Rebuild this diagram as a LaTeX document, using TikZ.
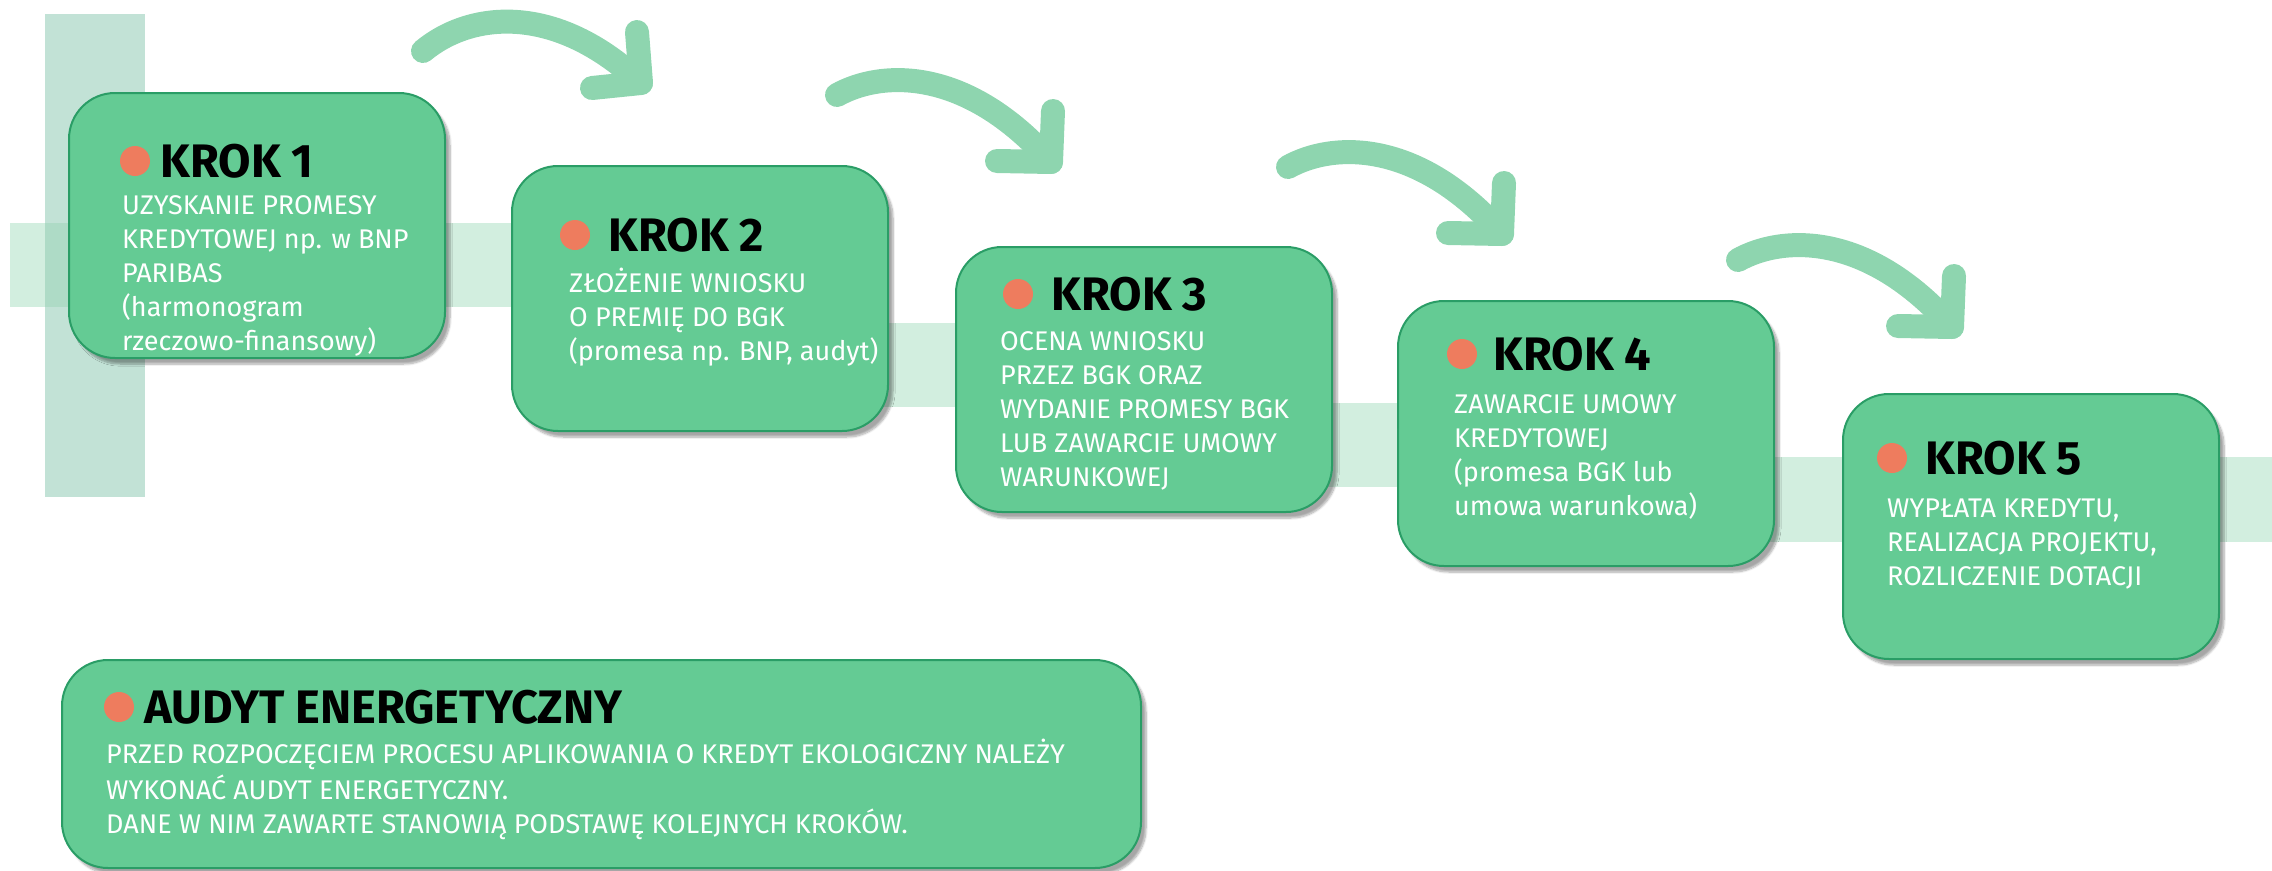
\documentclass[tikz,border=0pt]{standalone}
\usepackage{fontspec}
\setmainfont{Fira Sans}
\usetikzlibrary{positioning}
\usetikzlibrary{shadows.blur}

\definecolor{boxgreen}{HTML}{64CB94}
\definecolor{boxedge}{HTML}{2A9D66}
\definecolor{arrowgreen}{HTML}{8ED5AF}
\definecolor{barlight}{HTML}{D2EEDF}
\definecolor{barvert}{HTML}{C2E2D6}
\definecolor{barboth}{HTML}{AEDBC6}
\definecolor{dotorange}{HTML}{EE7C5E}

\begin{document}
\begin{tikzpicture}[x=1pt,y=-1pt,
    krokbox/.style={draw=boxedge, line width=2pt, fill=boxgreen, rounded corners=46pt,
        minimum width=376pt, minimum height=265pt, inner sep=0pt, anchor=north west,
        blur shadow={shadow xshift=5pt, shadow yshift=-6pt, shadow blur steps=8, shadow opacity=35}},
    krokdot/.style={circle, fill=dotorange, minimum size=30pt, inner sep=0pt},
    kroktitle/.style={font=\fontsize{47}{47}\selectfont\bfseries, text=black, inner sep=0pt},
    kroktext/.style={font=\fontsize{27}{34}\selectfont, text=white, align=left, inner sep=0pt, anchor=north west},
    strzalka/.style={draw=arrowgreen, line width=24pt, line cap=round, line join=round}]

    \useasboundingbox (0,0) rectangle (2272,870);

    % Background bars
    \fill[barvert] (45,14) rectangle (145,497);
    \fill[barlight] (10,223) rectangle (520,307);
    \fill[barboth] (45,223) rectangle (145,307);
    \fill[barlight] (870,323) rectangle (970,407);
    \fill[barlight] (1310,403) rectangle (1410,487);
    \fill[barlight] (1760,457) rectangle (2272,542);

    % Arrows between the steps
    \coordinate (a1s) at (423,51);
    \coordinate (a1c) at (641,83);
    \draw[strzalka] (a1s) .. controls (470,12) and (555,2) .. (a1c);
    \draw[strzalka] (637,32) -- (a1c) -- (592,88);

    \coordinate (a2s) at (837,95);
    \coordinate (a2c) at (1051,162);
    \draw[strzalka] (a2s) .. controls (882,70) and (967,67) .. (a2c);
    \draw[strzalka] (1053,111) -- (a2c) -- (997,161);

    \coordinate (a3s) at (1288,167);
    \coordinate (a3c) at (1502,234);
    \draw[strzalka] (a3s) .. controls (1333,142) and (1418,139) .. (a3c);
    \draw[strzalka] (1504,183) -- (a3c) -- (1448,233);

    \coordinate (a4s) at (1738,260);
    \coordinate (a4c) at (1952,327);
    \draw[strzalka] (a4s) .. controls (1783,235) and (1868,232) .. (a4c);
    \draw[strzalka] (1954,276) -- (a4c) -- (1898,326);

    % Step 1
    \node[krokbox] (krok1) at (68,92) {};
    \node[krokdot] (d1) at ([shift={(67,69)}]krok1.north west) {};
    \node[kroktitle, right=10pt of d1] (t1) {KROK 1};
    \node[kroktext] (b1) at ([shift={(54,98)}]krok1.north west)
        {\strut UZYSKANIE PROMESY\\KREDYTOWEJ np. w BNP\\PARIBAS\\(harmonogram\\rzeczowo-finansowy)};

    % Step 2
    \node[krokbox] (krok2) at (511,165) {};
    \node[krokdot] (d2) at ([shift={(64,70)}]krok2.north west) {};
    \node[kroktitle, right=18pt of d2] (t2) {KROK 2};
    \node[kroktext] (b2) at ([shift={(58,103)}]krok2.north west)
        {\strut ZŁOŻENIE WNIOSKU\\O PREMIĘ DO BGK\\(promesa np. BNP, audyt)};

    % Step 3
    \node[krokbox] (krok3) at (955,246) {};
    \node[krokdot] (d3) at ([shift={(63,48)}]krok3.north west) {};
    \node[kroktitle, right=18pt of d3] (t3) {KROK 3};
    \node[kroktext] (b3) at ([shift={(45,80)}]krok3.north west)
        {\strut OCENA WNIOSKU\\PRZEZ BGK ORAZ\\WYDANIE PROMESY BGK\\LUB ZAWARCIE UMOWY\\WARUNKOWEJ};

    % Step 4
    \node[krokbox] (krok4) at (1397,300) {};
    \node[krokdot] (d4) at ([shift={(65,54)}]krok4.north west) {};
    \node[kroktitle, right=16pt of d4] (t4) {KROK 4};
    \node[kroktext] (b4) at ([shift={(57,89)}]krok4.north west)
        {\strut ZAWARCIE UMOWY\\KREDYTOWEJ\\(promesa BGK lub\\umowa warunkowa)};

    % Step 5
    \node[krokbox] (krok5) at (1842,393) {};
    \node[krokdot] (d5) at ([shift={(50,65)}]krok5.north west) {};
    \node[kroktitle, right=18pt of d5] (t5) {KROK 5};
    \node[kroktext] (b5) at ([shift={(45,100)}]krok5.north west)
        {\strut WYPŁATA KREDYTU,\\REALIZACJA PROJEKTU,\\ROZLICZENIE DOTACJI};

    % Energy audit
    \node[krokbox, minimum width=1079pt, minimum height=208pt] (audyt) at (61,659) {};
    \node[krokdot] (d6) at ([shift={(58,48)}]audyt.north west) {};
    \node[kroktitle, right=10pt of d6] (t6) {AUDYT ENERGETYCZNY};
    \node[kroktext] (b6) at ([shift={(45,80)}]audyt.north west)
        {\strut PRZED ROZPOCZĘCIEM PROCESU APLIKOWANIA O KREDYT EKOLOGICZNY NALEŻY\\WYKONAĆ AUDYT ENERGETYCZNY.\\DANE W NIM ZAWARTE STANOWIĄ PODSTAWĘ KOLEJNYCH KROKÓW.};

\end{tikzpicture}
\end{document}
